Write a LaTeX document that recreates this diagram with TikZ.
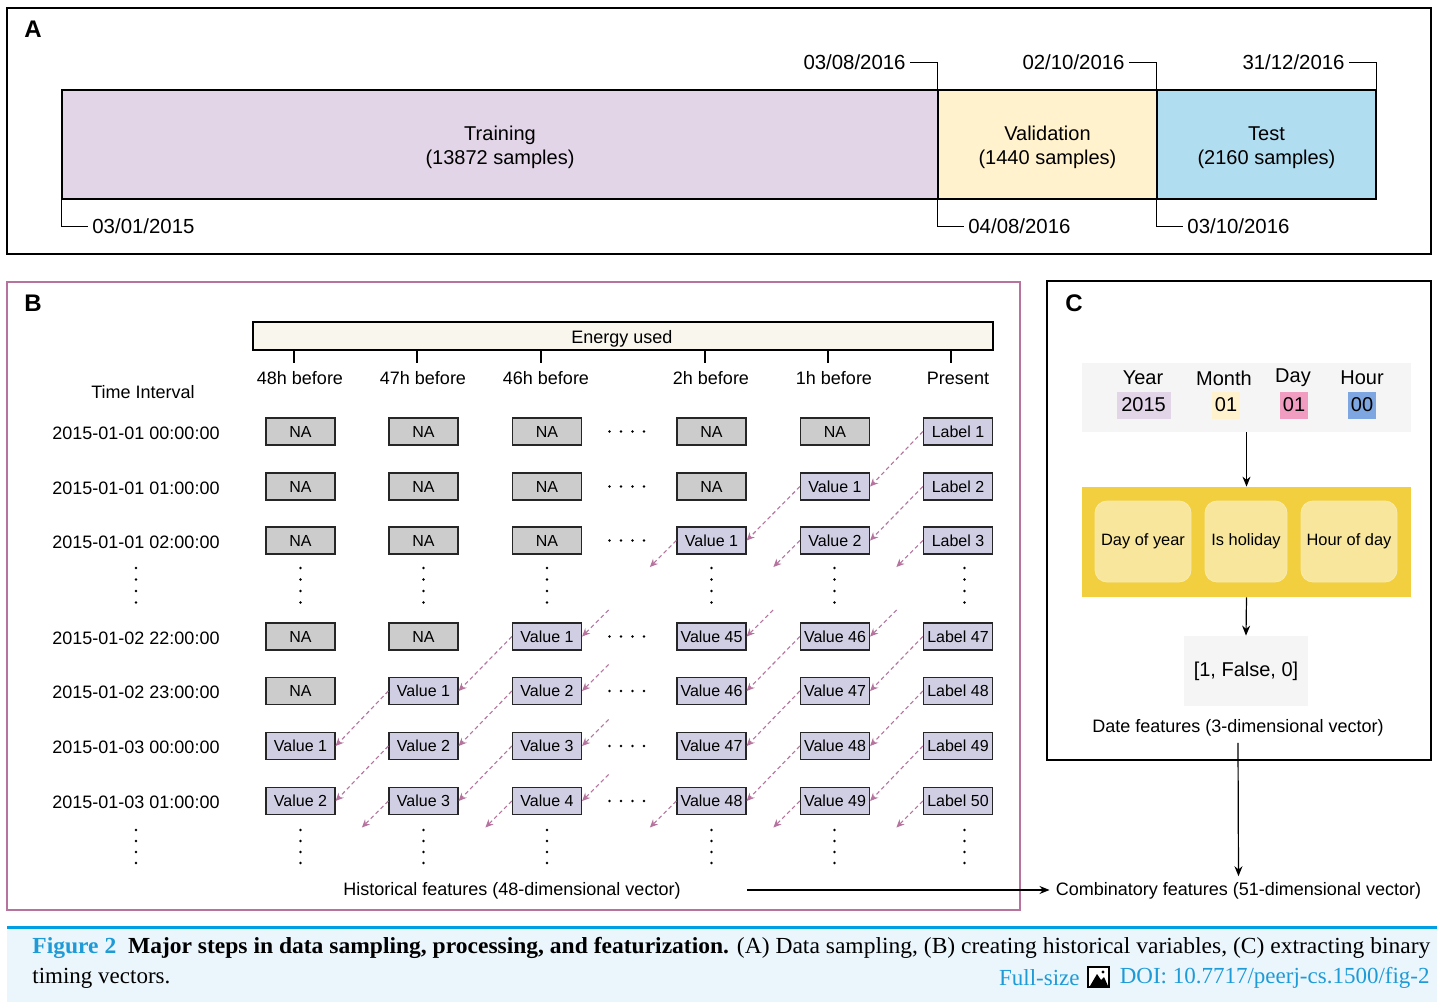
\documentclass[tikz,border=0pt]{standalone}
\usepackage{graphicx}
\usepackage{fontspec}
\setmainfont{Liberation Sans}
\newfontfamily\capserif{Liberation Serif}
\usetikzlibrary{arrows.meta,calc}
\definecolor{trainc}{HTML}{E1D5E7}
\definecolor{valc}{HTML}{FFF2CC}
\definecolor{testc}{HTML}{B1DDF0}
\definecolor{nac}{HTML}{CCCCCC}
\definecolor{vc}{HTML}{D0CEE2}
\definecolor{barc}{HTML}{F9F7ED}
\definecolor{pinkb}{HTML}{B5739D}
\definecolor{dayc}{HTML}{F19DC2}
\definecolor{hourc}{HTML}{7EA6E0}
\definecolor{hdrc}{HTML}{F4F5F4}
\definecolor{yelc}{HTML}{F2CF3F}
\definecolor{yinc}{HTML}{F7E69C}
\definecolor{capbg}{HTML}{EAF5FC}
\definecolor{caprule}{HTML}{009FE3}
\definecolor{linkc}{HTML}{1E9BD7}
\begin{document}
\begin{tikzpicture}[x=0.5pt,y=-0.5pt,
  panel/.style={draw=black, line width=0.6pt},
  plabel/.style={font=\fontsize{12}{14}\selectfont\bfseries, inner sep=0pt},
  seg/.style={draw=black, line width=0.6pt, minimum height=54.5pt, inner sep=0pt},
  segtxt/.style={align=center, inner sep=0pt, font=\fontsize{10}{12}\selectfont},
  datel/.style={inner sep=2pt, font=\fontsize{10.2}{12}\selectfont},
  dline/.style={draw=black, line width=0.5pt},
  lab/.style={inner sep=0pt, font=\fontsize{9}{11}\selectfont},
  nabox/.style={draw=black!85, fill=nac, line width=0.6pt, minimum width=34.5pt, minimum height=13.5pt, inner sep=0pt, font=\fontsize{8}{9.6}\selectfont},
  valbox/.style={nabox, fill=vc},
  parr/.style={draw=pinkb, line width=0.55pt, dash pattern=on 2pt off 1.5pt, -{Stealth[length=4pt,width=3.6pt]}},
  karr/.style={draw=black, line width=0.6pt, -{Stealth[length=5pt,width=4pt]}},
  chip/.style={minimum width=27pt, minimum height=13.5pt, inner sep=0pt, font=\fontsize{10}{12}\selectfont},
  inbox/.style={fill=yinc, draw=yinc!80!white, rounded corners=6pt, minimum height=40.5pt, inner sep=0pt, font=\fontsize{8.2}{10}\selectfont}
]
\useasboundingbox (0,0) rectangle (1437,1002);
\fill[white] (0,0) rectangle (1437,1002);

% ---------------- Panel A ----------------
\draw[panel] (7,8) rectangle (1431,254);
\node[plabel] (pa) at (33,29) {A};
\node[seg, fill=trainc, minimum width=438pt] (train) at (500,144.5) {};
\node[seg, fill=valc, minimum width=109.5pt] (valid) at (1047.5,144.5) {};
\node[seg, fill=testc, minimum width=109.5pt] (test) at (1266.5,144.5) {};
\node[segtxt] (trainl) at (500,147.5) {Training\\(13872 samples)};
\node[segtxt] (validl) at (1047.5,147.5) {Validation\\(1440 samples)};
\node[segtxt] (testl) at (1266.5,147.5) {Test\\(2160 samples)};
\node[datel, anchor=east] (d1) at (910,62) {03/08/2016};
\node[datel, anchor=east] (d2) at (1129,62) {02/10/2016};
\node[datel, anchor=east] (d3) at (1349,62) {31/12/2016};
\node[datel, anchor=west] (d4) at (88,226) {03/01/2015};
\node[datel, anchor=west] (d5) at (964,226) {04/08/2016};
\node[datel, anchor=west] (d6) at (1183,226) {03/10/2016};
\draw[dline] (d1.east) -| (valid.north west);
\draw[dline] (d2.east) -| (test.north west);
\draw[dline] (d3.east) -| (test.north east);
\draw[dline] (train.south west) |- (d4.west);
\draw[dline] (valid.south west) |- (d5.west);
\draw[dline] (test.south west) |- (d6.west);

% ---------------- Panel B ----------------
\draw[draw=pinkb, line width=0.7pt] (7,282) rectangle (1020,910);
\node[plabel] (pb) at (33,303) {B};
\node[draw=black, line width=0.6pt, fill=barc, minimum width=370pt, minimum height=14pt, inner sep=0pt] (energy) at (623,336) {};
\node[lab] (energyl) at (622,339) {Energy used};
\foreach \x in {294,417,541,705,828,951} \draw[line width=0.6pt] (\x,350) -- (\x,363);
\foreach \x/\t [count=\i] in {300/48h before, 423/47h before, 546/46h before, 711/2h before, 834/1h before, 958/Present}
  \node[lab] (h\i) at (\x,378) {\t};
\node[lab] (ti) at (143,392) {Time Interval};
\foreach \y/\t [count=\i] in {433.5/2015-01-01 00:00:00, 488/2015-01-01 01:00:00, 542.5/2015-01-01 02:00:00, 638/2015-01-02 22:00:00, 692.5/2015-01-02 23:00:00, 747.5/2015-01-03 00:00:00, 802.5/2015-01-03 01:00:00}
  \node[lab] (t\i) at (136,\y) {\t};

% boxes
\foreach \n/\x/\y/\s/\t in {
 r1c1/300.5/431.5/nabox/NA, r1c2/423.5/431.5/nabox/NA, r1c3/547/431.5/nabox/NA, r1c5/711.5/431.5/nabox/NA, r1c6/835/431.5/nabox/NA, r1c7/958/431.5/valbox/Label 1,
 r2c1/300.5/486.5/nabox/NA, r2c2/423.5/486.5/nabox/NA, r2c3/547/486.5/nabox/NA, r2c5/711.5/486.5/nabox/NA, r2c6/835/486.5/valbox/Value 1, r2c7/958/486.5/valbox/Label 2,
 r3c1/300.5/540.5/nabox/NA, r3c2/423.5/540.5/nabox/NA, r3c3/547/540.5/nabox/NA, r3c5/711.5/540.5/valbox/Value 1, r3c6/835/540.5/valbox/Value 2, r3c7/958/540.5/valbox/Label 3,
 r4c1/300.5/636.5/nabox/NA, r4c2/423.5/636.5/nabox/NA, r4c3/547/636.5/valbox/Value 1, r4c5/711.5/636.5/valbox/Value 45, r4c6/835/636.5/valbox/Value 46, r4c7/958/636.5/valbox/Label 47,
 r5c1/300.5/691/nabox/NA, r5c2/423.5/691/valbox/Value 1, r5c3/547/691/valbox/Value 2, r5c5/711.5/691/valbox/Value 46, r5c6/835/691/valbox/Value 47, r5c7/958/691/valbox/Label 48,
 r6c1/300.5/746/valbox/Value 1, r6c2/423.5/746/valbox/Value 2, r6c3/547/746/valbox/Value 3, r6c5/711.5/746/valbox/Value 47, r6c6/835/746/valbox/Value 48, r6c7/958/746/valbox/Label 49,
 r7c1/300.5/801/valbox/Value 2, r7c2/423.5/801/valbox/Value 3, r7c3/547/801/valbox/Value 4, r7c5/711.5/801/valbox/Value 48, r7c6/835/801/valbox/Value 49, r7c7/958/801/valbox/Label 50}
  \node[\s] (\n) at (\x,\y) {\t};

% horizontal dots
\foreach \y in {431.5,486.5,540.5,636.5,691,746,801}
  \foreach \x in {609.5,621,632.5,644} \fill (\x,\y) circle (1.4);
% vertical dots
\foreach \x in {136,300.5,423.5,547,711.5,834.5,964.5}
  \foreach \y in {568,579.5,591,602.5,830,841,852,863} \fill (\x,\y) circle (1.4);

% dashed arrows
\foreach \a/\b in {r1c7/r2c6, r2c6/r3c5, r2c7/r3c6, r4c3/r5c2, r4c6/r5c5, r4c7/r5c6,
  r5c2/r6c1, r5c3/r6c2, r5c6/r6c5, r5c7/r6c6, r6c2/r7c1, r6c3/r7c2, r6c6/r7c5, r6c7/r7c6}
  \draw[parr] (\a.west) -- (\b.east);
\foreach \a in {r3c5,r3c6,r3c7,r7c2,r7c3,r7c5,r7c6,r7c7}
  \draw[parr] (\a.west) -- ++(-26.5,26.5);
\foreach \b in {r4c3,r4c5,r4c6,r5c3,r6c3,r7c3}
  \draw[parr] ($(\b.east)+(26.5,-26.5)$) -- (\b.east);

\node[lab] (hist) at (512,891) {Historical features (48-dimensional vector)};
\coordinate (hstart) at (747,890);

% ---------------- Panel C ----------------
\draw[panel] (1047,281) rectangle (1431,760);
\node[plabel] (pc) at (1074,303) {C};
\node[fill=hdrc, minimum width=164.5pt, minimum height=34.5pt, inner sep=0pt] (hdr) at (1246.5,397.5) {};
\foreach \x/\t [count=\i] in {1143/Year, 1224/Month, 1293/Day, 1362/Hour}
  \node[inner sep=0pt, font=\fontsize{10}{12}\selectfont] (k\i) at (\x,378) {\t};
\node[chip, fill=trainc] (cy) at (1143.5,405) {2015};
\node[chip, fill=valc, minimum width=14pt] (cm) at (1226,405) {01};
\node[chip, fill=dayc, minimum width=14pt] (cd) at (1294,405) {01};
\node[chip, fill=hourc, minimum width=14pt] (ch) at (1362,405) {00};
\node[fill=yelc, minimum width=164.5pt, minimum height=55pt, inner sep=0pt] (yel) at (1246.5,542) {};
\node[inbox, minimum width=48pt] (doy) at (1143,541.5) {Day of year};
\node[inbox, minimum width=41pt] (hol) at (1246,541.5) {Is holiday};
\node[inbox, minimum width=48pt] (hod) at (1349,541.5) {Hour of day};
\node[fill=hdrc, minimum width=62pt, minimum height=35pt, inner sep=0pt, font=\fontsize{10}{12}\selectfont] (vec) at (1246,671) {[1, False, 0]};
\draw[karr] (hdr.south) -- (yel.north);
\draw[karr] (yel.south) -- (vec.north);
\node[lab, inner sep=3pt] (datef) at (1238,728) {Date features (3-dimensional vector)};
\node[lab, inner sep=3pt] (comb) at (1238.5,891) {Combinatory features (51-dimensional vector)};
\draw[karr] (datef.south) -- (comb.north);
\draw[karr] (hstart) -- (hstart -| comb.west);

% ---------------- Caption ----------------
\fill[capbg] (7,928) rectangle (1437,1002);
\draw[caprule, line width=1.5pt] (7,927) -- (1437,927);
\node[anchor=west, inner sep=0pt, font=\capserif\fontsize{11.5}{14}\selectfont] (cap1) at (32,948)
  {\resizebox{699pt}{\height}{\makebox{\textcolor{linkc}{\textbf{Figure 2}}\ \ \textbf{Major steps in data sampling, processing, and featurization.} (A) Data sampling, (B) creating historical variables, (C) extracting binary}}};
\node[anchor=west, inner sep=0pt, font=\capserif\fontsize{11.5}{14}\selectfont] (cap2) at (32,978) {timing vectors.};
\node[anchor=east, inner sep=0pt, text=linkc, font=\capserif\fontsize{11.5}{14}\selectfont] (doi) at (1430,978) {DOI: 10.7717/peerj-cs.1500/fig-2};
\node[draw=black, line width=1pt, fill=white, minimum width=10.5pt, minimum height=10pt, inner sep=0pt] (icon) at (1098.5,977) {};
\fill[black] (1090,986) -- (1097,974) -- (1101,980) -- (1104,977) -- (1108,986) -- cycle;
\fill[black] (1103,972) circle (1.6);
\node[anchor=east, inner sep=0pt, text=linkc, font=\capserif\fontsize{11.5}{14}\selectfont] (fs) at (1080,978) {Full-size};
\end{tikzpicture}
\end{document}
